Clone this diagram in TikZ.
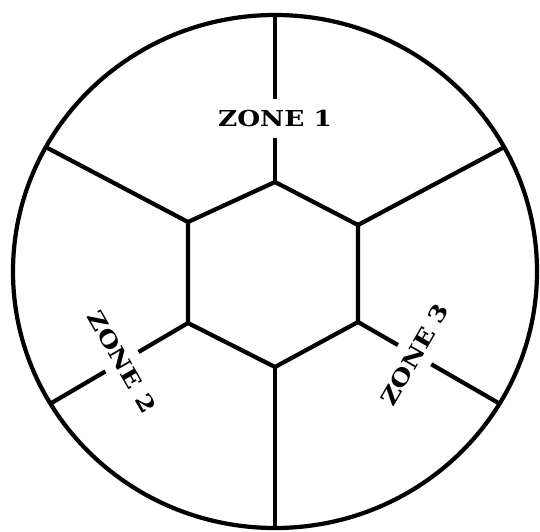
\documentclass[tikz,border=0pt]{standalone}
\usepackage{graphicx}
\usepackage{fontspec}
\newfontfamily\zonafont{DejaVu Serif}
\usetikzlibrary{calc}
\tikzset{
    bordo/.style={line width=2.4pt},
    zona/.style={font=\zonafont\bfseries\fontsize{12.5}{14}\selectfont, inner xsep=2pt, inner ysep=6pt},
}
\newcommand{\zonatesto}[1]{\scalebox{1.2}[1]{ZONE #1}}

\begin{document}
\begin{tikzpicture}
    \useasboundingbox (-5.5,-5.19) rectangle (5.3,5.43);

    % Il bordo esterno
    \draw[bordo] (0,0) ellipse [x radius=5.24, y radius=5.13];

    % L'esagono centrale
    \coordinate (h1) at (0,1.79);
    \coordinate (h2) at (-1.74,0.99);
    \coordinate (h3) at (-1.74,-1.03);
    \coordinate (h4) at (0,-1.91);
    \coordinate (h5) at (1.66,-1.01);
    \coordinate (h6) at (1.66,0.93);
    \draw[bordo, line join=miter] (h1) -- (h2) -- (h3) -- (h4) -- (h5) -- (h6) -- cycle;

    % Punti sul bordo
    \coordinate (r1) at (90:5.24 and 5.13);
    \coordinate (r2) at (151:5.24 and 5.13);
    \coordinate (r3) at (211:5.24 and 5.13);
    \coordinate (r4) at (270:5.24 and 5.13);
    \coordinate (r5) at (329:5.24 and 5.13);
    \coordinate (r6) at (29:5.24 and 5.13);

    % Le etichette delle zone
    \node[zona] (z1) at ($(h1)!0.38!(r1)$) {\zonatesto{1}};
    \node[zona, rotate=-60] (z2) at ($(h3)!0.48!(r3)$) {\zonatesto{2}};
    \node[zona, rotate=60] (z3) at ($(h5)!0.40!(r5)$) {\zonatesto{3}};

    % I raggi
    \draw[bordo] (h1) -- (z1) -- (r1);
    \draw[bordo] (h2) -- (r2);
    \draw[bordo] (h3) -- (z2) -- (r3);
    \draw[bordo] (h4) -- (r4);
    \draw[bordo] (h5) -- (z3) -- (r5);
    \draw[bordo] (h6) -- (r6);

\end{tikzpicture}
\end{document}
